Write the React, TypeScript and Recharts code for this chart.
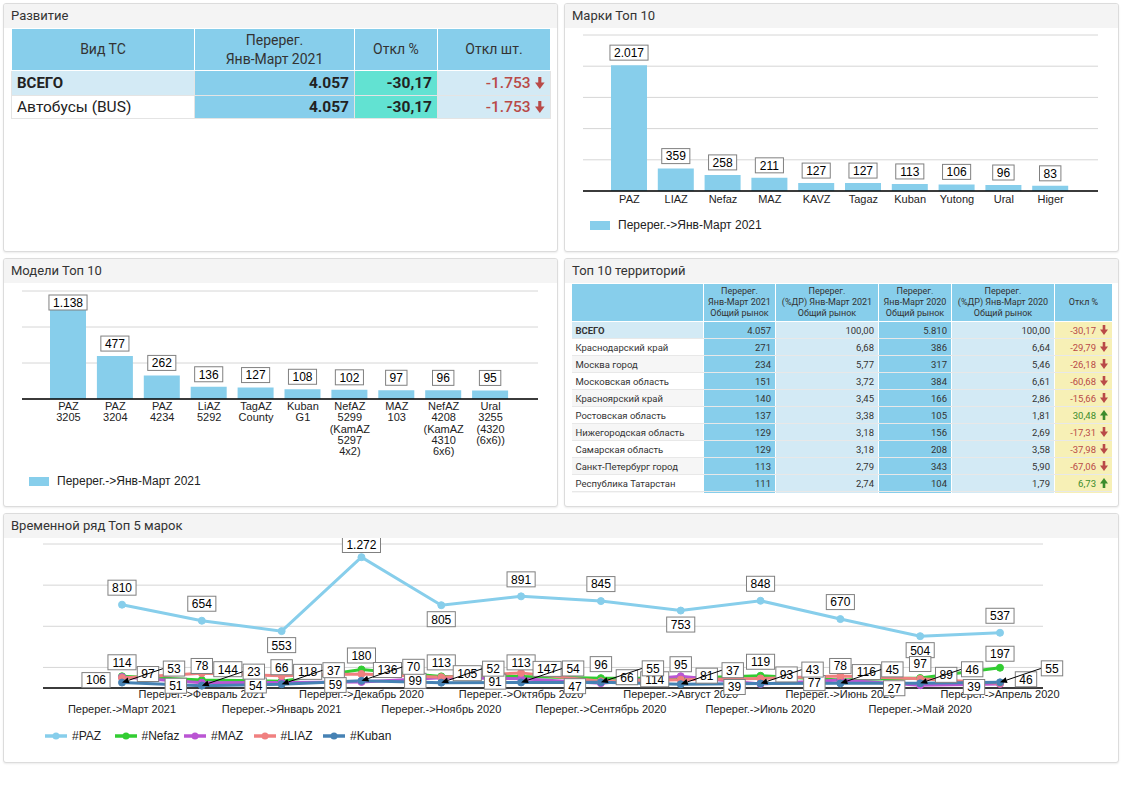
import React from "react";
import { Bar, BarChart, CartesianGrid, LabelList, Line, LineChart, XAxis, YAxis } from "recharts";

const FONT_UI = "Roboto, 'Open Sans', sans-serif";
const FONT_CHART = "'Liberation Sans', Arial, sans-serif";

// --- Развитие ---
const devHeader = ["Вид ТС", "Перерег.\nЯнв-Март 2021", "Откл %", "Откл шт."];
const devTypes = ["ВСЕГО", "Автобусы (BUS)"];
const devUnits = [4057, 4057];
const devPct = [-30.17, -30.17];
const devAbs = [-1753, -1753];

// --- Марки Топ 10 ---
const brands = ["PAZ", "LIAZ", "Nefaz", "MAZ", "KAVZ", "Tagaz", "Kuban", "Yutong", "Ural", "Higer"];
const brandUnits = [2017, 359, 258, 211, 127, 127, 113, 106, 96, 83];

// --- Модели Топ 10 ---
const models = [
  "PAZ 3205", "PAZ 3204", "PAZ 4234", "LiAZ 5292", "TagAZ County", "Kuban G1",
  "NefAZ 5299 (KamAZ 5297 4x2)", "MAZ 103", "NefAZ 4208 (KamAZ 4310 6x6)", "Ural 3255 (4320 (6x6))",
];
const modelUnits = [1138, 477, 262, 136, 127, 108, 102, 97, 96, 95];

const periodName = "Перерег.->Янв-Март 2021";

// --- Топ 10 территорий ---
const terrHeader = [
  "",
  "Перерег.\nЯнв-Март 2021\nОбщий рынок",
  "Перерег.\n(%ДР) Янв-Март 2021\nОбщий рынок",
  "Перерег.\nЯнв-Март 2020\nОбщий рынок",
  "Перерег.\n(%ДР) Янв-Март 2020\nОбщий рынок",
  "Откл %",
];
const regions = [
  "ВСЕГО", "Краснодарский край", "Москва город", "Московская область", "Красноярский край",
  "Ростовская область", "Нижегородская область", "Самарская область", "Санкт-Петербург город", "Республика Татарстан",
];
const reg2021 = [4057, 271, 234, 151, 140, 137, 129, 129, 113, 111];
const regShare2021 = [100, 6.68, 5.77, 3.72, 3.45, 3.38, 3.18, 3.18, 2.79, 2.74];
const reg2020 = [5810, 386, 317, 384, 166, 105, 156, 208, 343, 104];
const regShare2020 = [100, 6.64, 5.46, 6.61, 2.86, 1.81, 2.69, 3.58, 5.9, 1.79];
const regDev = [-30.17, -29.79, -26.18, -60.68, -15.66, 30.48, -17.31, -37.98, -67.06, 6.73];

// --- Временной ряд Топ 5 марок ---
const months = [
  "Март 2021", "Февраль 2021", "Январь 2021", "Декабрь 2020", "Ноябрь 2020", "Октябрь 2020",
  "Сентябрь 2020", "Август 2020", "Июль 2020", "Июнь 2020", "Май 2020", "Апрель 2020",
];
const paz = [810, 654, 553, 1272, 805, 891, 845, 753, 848, 670, 504, 537];
const nefaz = [114, 78, 66, 180, 113, 113, 96, 95, 119, 78, 97, 197];
const maz = [106, 51, 54, 59, 99, 91, 47, 114, 39, 77, 27, 39];
const liaz = [97, 144, 118, 136, 105, 147, 66, 81, 93, 116, 89, 46];
const kuban = [53, 23, 37, 70, 52, 54, 55, 37, 43, 45, 46, 55];

const SKY = "#87ceeb";
const LIGHT = "#d3eaf5";
const TURQ = "#62e2d2";
const YELLOW = "#f7f0b6";
const RED = "#b94a48";
const GREEN = "#3c8c2c";

const fmtInt = (v: number) =>
  (v < 0 ? "-" : "") + Math.abs(v).toString().replace(/\B(?=(\d{3})+(?!\d))/g, ".");
const fmtDec = (v: number) => v.toFixed(2).replace(".", ",");

function Arrow({ up, color, size = 1 }: { up?: boolean; color: string; size?: number }) {
  return (
    <svg width={8 * size} height={10 * size} viewBox="0 0 8 10" style={{ marginLeft: 4 * size, verticalAlign: "-1px" }}>
      <g transform={up ? "rotate(180 4 5)" : undefined}>
        <rect x="2.7" y="0" width="2.6" height="5" fill={color} />
        <polygon points="0,4.5 8,4.5 4,10" fill={color} />
      </g>
    </svg>
  );
}

function Panel({ x, y, w, h, title, children }: any) {
  return (
    <div
      style={{
        position: "absolute", left: x, top: y, width: w, height: h, boxSizing: "border-box",
        border: "1px solid #dcdcdc", borderRadius: 3, background: "#fff",
        boxShadow: "0 1px 2px rgba(0,0,0,0.08)", overflow: "hidden",
      }}
    >
      <div style={{ height: 24, background: "#f4f4f4", fontFamily: FONT_UI, fontSize: 13, color: "#333", lineHeight: "24px", paddingLeft: 7 }}>
        {title}
      </div>
      {children}
    </div>
  );
}

function boxWidth(t: string) {
  let w = 0;
  for (const c of t) w += c === "." || c === "," ? 3.3 : 6.7;
  return w + 8;
}

function ValueBox({ cx, cy, text }: { cx: number; cy: number; text: string }) {
  const w = boxWidth(text);
  const h = 15;
  return (
    <g>
      <rect x={cx - w / 2} y={cy - h / 2} width={w} height={h} fill="#fff" stroke="#808080" strokeWidth={1} />
      <text x={cx} y={cy + 4.4} textAnchor="middle" fontSize={12} fontFamily={FONT_CHART} fill="#000">
        {text}
      </text>
    </g>
  );
}

const barLabel = (plotTop: number) => (p: any) => {
  const h = 15;
  let top = p.y - 5 - h;
  if (top < plotTop + 4) top = plotTop + 4;
  return <ValueBox cx={p.x + p.width / 2} cy={top + h / 2} text={fmtInt(p.value)} />;
};

function CatTick({ x, y, payload, wrap }: any) {
  const lines = wrap ? String(payload.value).split(" ") : [String(payload.value)];
  return (
    <text x={x} y={y} textAnchor="middle" fontSize={11} fontFamily={FONT_CHART} fill="#222">
      {lines.map((l, i) => (
        <tspan key={i} x={x} dy={i === 0 ? (wrap ? 11 : 12) : 11.3}>
          {l}
        </tspan>
      ))}
    </text>
  );
}

function MonthTick({ x, y, payload, index }: any) {
  return (
    <text x={x} y={y + (index % 2 === 0 ? 25 : 10)} textAnchor="middle" fontSize={11} fontFamily={FONT_CHART} fill="#222">
      {payload.value}
    </text>
  );
}

function BarLegend({ left, top }: { left: number; top: number }) {
  return (
    <div style={{ position: "absolute", left, top, display: "flex", alignItems: "center", fontFamily: FONT_CHART, fontSize: 12, color: "#222" }}>
      <span style={{ display: "inline-block", width: 20, height: 9, background: SKY, marginRight: 8 }} />
      {periodName}
    </div>
  );
}

function DevTable() {
  const th: React.CSSProperties = { background: SKY, color: "#333", fontWeight: 400, fontSize: 14, lineHeight: "19px", textAlign: "center", border: "1px solid #fff", whiteSpace: "pre-line" };
  const td: React.CSSProperties = { border: "1px solid #e4e4e4", fontSize: 15.5, padding: "0 5px", color: "#222" };
  return (
    <table style={{ position: "absolute", left: 7, top: 24, width: 539, borderCollapse: "collapse", tableLayout: "fixed", fontFamily: FONT_UI, border: "1px solid #ddd" }}>
      <colgroup>
        <col style={{ width: 183 }} />
        <col style={{ width: 160 }} />
        <col style={{ width: 83 }} />
        <col style={{ width: 113 }} />
      </colgroup>
      <thead>
        <tr style={{ height: 42 }}>
          {devHeader.map((h) => (
            <th key={h} style={th}>{h}</th>
          ))}
        </tr>
      </thead>
      <tbody>
        {devTypes.map((t, i) => (
          <tr key={t} style={{ height: i === 0 ? 25 : 23 }}>
            <td style={{ ...td, background: i === 0 ? LIGHT : "#fff", fontWeight: i === 0 ? 700 : 400, fontSize: i === 0 ? 15 : 15.5 }}>{t}</td>
            <td style={{ ...td, background: SKY, textAlign: "right", fontWeight: 700 }}>{fmtInt(devUnits[i])}</td>
            <td style={{ ...td, background: TURQ, textAlign: "right", fontWeight: 700 }}>{fmtDec(devPct[i])}</td>
            <td style={{ ...td, background: LIGHT, textAlign: "right", color: RED, fontWeight: 500 }}>
              {fmtInt(devAbs[i])}
              <Arrow up={devAbs[i] > 0} color={devAbs[i] > 0 ? GREEN : RED} size={1.2} />
            </td>
          </tr>
        ))}
      </tbody>
    </table>
  );
}

function TerrTable() {
  const th: React.CSSProperties = { background: SKY, color: "#333", fontWeight: 400, fontSize: 9, lineHeight: "11px", textAlign: "center", border: "1px solid #fff", whiteSpace: "pre-line", padding: 0 };
  const td: React.CSSProperties = { fontSize: 9.5, padding: "0 4px", color: "#333", borderBottom: "1px solid #e8e8e8", borderRight: "1px solid #fff", whiteSpace: "nowrap" };
  return (
    <div style={{ position: "absolute", left: 6, top: 24, width: 541, height: 210, overflow: "hidden" }}>
      <table style={{ width: 541, borderCollapse: "collapse", tableLayout: "fixed", fontFamily: FONT_UI }}>
        <colgroup>
          <col style={{ width: 132 }} />
          <col style={{ width: 72 }} />
          <col style={{ width: 103 }} />
          <col style={{ width: 73 }} />
          <col style={{ width: 103 }} />
          <col style={{ width: 58 }} />
        </colgroup>
        <thead>
          <tr style={{ height: 38 }}>
            {terrHeader.map((h, i) => (
              <th key={i} style={th}>{h}</th>
            ))}
          </tr>
        </thead>
        <tbody>
          {regions.map((r, i) => {
            const up = regDev[i] > 0;
            return (
              <tr key={r} style={{ height: 17 }}>
                <td style={{ ...td, background: i === 0 ? LIGHT : i % 2 === 0 ? "#f6f6f6" : "#fff", fontWeight: i === 0 ? 700 : 400 }}>{r}</td>
                <td style={{ ...td, background: SKY, textAlign: "right" }}>{fmtInt(reg2021[i])}</td>
                <td style={{ ...td, background: LIGHT, textAlign: "right" }}>{fmtDec(regShare2021[i])}</td>
                <td style={{ ...td, background: SKY, textAlign: "right" }}>{fmtInt(reg2020[i])}</td>
                <td style={{ ...td, background: LIGHT, textAlign: "right" }}>{fmtDec(regShare2020[i])}</td>
                <td style={{ ...td, background: YELLOW, textAlign: "right", color: up ? GREEN : RED }}>
                  {fmtDec(regDev[i])}
                  <Arrow up={up} color={up ? GREEN : RED} />
                </td>
              </tr>
            );
          })}
          <tr style={{ height: 17 }}>
            <td style={{ ...td, background: "#f6f6f6" }} />
            <td style={{ ...td, background: SKY }} />
            <td style={{ ...td, background: LIGHT }} />
            <td style={{ ...td, background: SKY }} />
            <td style={{ ...td, background: LIGHT }} />
            <td style={{ ...td, background: YELLOW }} />
          </tr>
        </tbody>
      </table>
    </div>
  );
}

const brandData = brands.map((b, i) => ({ name: b, units: brandUnits[i] }));
const modelData = models.map((m, i) => ({ name: m, units: modelUnits[i] }));
const tsData = months.map((m, i) => ({
  month: "Перерег.->" + m,
  PAZ: paz[i],
  Nefaz: nefaz[i],
  MAZ: maz[i],
  LIAZ: liaz[i],
  Kuban: kuban[i],
}));

const lineSeries = [
  { key: "PAZ", color: "#87ceeb" },
  { key: "Nefaz", color: "#32cd32" },
  { key: "MAZ", color: "#ba55d3" },
  { key: "LIAZ", color: "#f08080" },
  { key: "Kuban", color: "#4682b4" },
];

const TS_TOP = 6;

function pazLabel(p: any) {
  const i = p.index;
  const v = paz[i];
  const lower = (i === 0 || v < paz[i - 1]) && (i === paz.length - 1 || v < paz[i + 1]);
  const cy = lower ? p.y + 14 : Math.max(p.y - 17, TS_TOP + 1);
  return <ValueBox key={i} cx={p.x} cy={cy} text={fmtInt(p.value)} />;
}

const offsetLabel = (dx: number, dy: number) => (p: any) => (
  <ValueBox key={p.index} cx={p.x + dx} cy={p.y + dy} text={fmtInt(p.value)} />
);

function kubanLabel(p: any) {
  const text = fmtInt(p.value);
  const bx = p.x + 52;
  const by = p.y - 14;
  const sx = bx - boxWidth(text) / 2;
  const sy = by;
  const dx = p.x - sx;
  const dy = p.y - sy;
  const len = Math.hypot(dx, dy) || 1;
  const ux = dx / len;
  const uy = dy / len;
  const baseX = p.x - ux * 7;
  const baseY = p.y - uy * 7;
  const px = -uy * 3;
  const py = ux * 3;
  return (
    <g key={p.index}>
      <line x1={sx} y1={sy} x2={baseX} y2={baseY} stroke="#000" strokeWidth={1} />
      <polygon points={`${p.x},${p.y} ${baseX + px},${baseY + py} ${baseX - px},${baseY - py}`} fill="#000" />
      <ValueBox cx={bx} cy={by} text={text} />
    </g>
  );
}

const lineLabels: Record<string, any> = {
  PAZ: pazLabel,
  Nefaz: offsetLabel(0, -14),
  MAZ: offsetLabel(-26, 3),
  LIAZ: offsetLabel(26, -4),
  Kuban: kubanLabel,
};

export default function App() {
  return (
    <div style={{ position: "absolute", left: 0, top: 0, width: 1122, height: 793, background: "#fff" }}>
      <Panel x={3} y={3} w={555} h={249} title="Развитие">
        <DevTable />
      </Panel>

      <Panel x={564} y={3} w={555} h={249} title="Марки Топ 10">
        <div style={{ position: "absolute", left: 0, top: 24 }}>
          <BarChart width={553} height={190} data={brandData} margin={{ top: 7, right: 20, bottom: 7, left: 18 }}>
            <CartesianGrid vertical={false} stroke="#d6d6d6" />
            <YAxis hide domain={[0, 2500]} ticks={[0, 500, 1000, 1500, 2000, 2500]} />
            <XAxis
              dataKey="name" interval={0} height={20} tickLine={false} tickSize={0} tickMargin={0}
              axisLine={{ stroke: "#000", strokeWidth: 1.5 }} padding={{ left: 23, right: 24 }}
              tick={(p: any) => <CatTick {...p} />}
            />
            <Bar dataKey="units" fill={SKY} barSize={36} isAnimationActive={false}>
              <LabelList dataKey="units" content={barLabel(7)} />
            </Bar>
          </BarChart>
        </div>
        <BarLegend left={25} top={214} />
      </Panel>

      <Panel x={3} y={258} w={555} h={249} title="Модели Топ 10">
        <div style={{ position: "absolute", left: 0, top: 24 }}>
          <BarChart width={553} height={190} data={modelData} margin={{ top: 8, right: 19, bottom: 8, left: 18 }}>
            <CartesianGrid vertical={false} stroke="#d6d6d6" />
            <YAxis hide domain={[0, 1200]} ticks={[0, 200, 400, 600, 800, 1000, 1200]} />
            <XAxis
              dataKey="name" interval={0} height={66} tickLine={false} tickSize={0} tickMargin={0}
              axisLine={{ stroke: "#000", strokeWidth: 1.5 }} padding={{ left: 23, right: 24 }}
              tick={(p: any) => <CatTick {...p} wrap />}
            />
            <Bar dataKey="units" fill={SKY} barSize={36} isAnimationActive={false}>
              <LabelList dataKey="units" content={barLabel(8)} />
            </Bar>
          </BarChart>
        </div>
        <BarLegend left={25} top={215} />
      </Panel>

      <Panel x={564} y={258} w={555} h={249} title="Топ 10 территорий">
        <TerrTable />
      </Panel>

      <Panel x={3} y={513} w={1116} h={250} title="Временной ряд Топ 5 марок">
        <div style={{ position: "absolute", left: 0, top: 24 }}>
          <LineChart width={1114} height={190} data={tsData} margin={{ top: TS_TOP, right: 75, bottom: 7, left: 39 }}>
            <CartesianGrid vertical={false} stroke="#d6d6d6" />
            <YAxis hide domain={[0, 1400]} ticks={[0, 200, 400, 600, 800, 1000, 1200, 1400]} />
            <XAxis
              dataKey="month" scale="point" interval={0} height={33} tickLine={false} tickSize={0} tickMargin={0}
              axisLine={{ stroke: "#000", strokeWidth: 1.5 }} padding={{ left: 79, right: 43 }}
              tick={(p: any) => <MonthTick {...p} />}
            />
            {lineSeries.map((s) => (
              <Line
                key={s.key} dataKey={s.key} stroke={s.color} strokeWidth={3} type="linear"
                dot={{ r: 3.5, fill: s.color, stroke: s.color, strokeWidth: 1 }}
                isAnimationActive={false} label={lineLabels[s.key]}
              />
            ))}
          </LineChart>
        </div>
        <div style={{ position: "absolute", left: 0, top: 214, width: 600, height: 16, fontFamily: FONT_CHART, fontSize: 12, color: "#222" }}>
          {lineSeries.map((s, i) => (
            <div key={s.key} style={{ position: "absolute", left: 41 + i * 69.5, top: 0, display: "flex", alignItems: "center", height: 16 }}>
              <svg width="22" height="10" style={{ marginRight: 5 }}>
                <line x1="0" y1="5" x2="22" y2="5" stroke={s.color} strokeWidth={3.5} />
                <circle cx="11" cy="5" r="3.5" fill={s.color} />
              </svg>
              #{s.key}
            </div>
          ))}
        </div>
      </Panel>
    </div>
  );
}
